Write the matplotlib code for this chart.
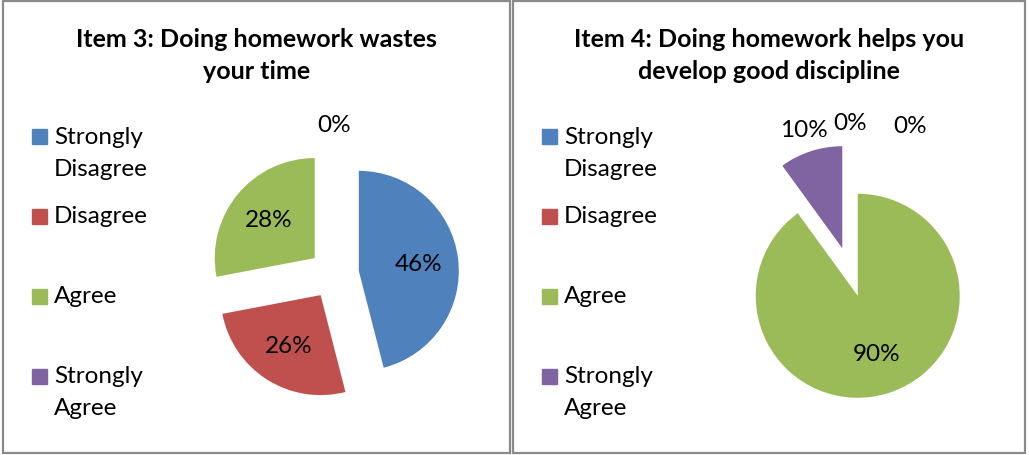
import textwrap
import numpy as np
import matplotlib.pyplot as plt
from matplotlib.patches import Rectangle

plt.rcParams['font.family'] = ['Lato', 'DejaVu Sans']

categories = ['Strongly Disagree', 'Disagree', 'Agree', 'Strongly Agree']
colors = ['#4F81BD', '#C0504D', '#9BBB59', '#8064A2']

item3_title = 'Item 3: Doing homework wastes\nyour time'
item3_values = [46, 26, 28, 0]

item4_title = 'Item 4: Doing homework helps you\ndevelop good discipline'
item4_values = [0, 0, 90, 10]

W, H = 1029, 456
fig = plt.figure(figsize=(W / 100, H / 100), dpi=100)


def px_box(x0, y0, w, h):
    # pixel box (top-left origin) -> figure fraction rect
    return [x0 / W, 1 - (y0 + h) / H, w / W, h / H]


def panel(left, right, pie_cx, pie_cy, radius, title, values):
    # panel border
    fig.add_artist(Rectangle((left / W, 2 / H), (right - left) / W, (H - 4) / H,
                             transform=fig.transFigure, fill=False,
                             edgecolor='#8a8a8a', linewidth=1.6))
    # title
    fig.text((left + right) / 2 / W, 1 - 55.5 / H, title, ha='center', va='center',
             fontsize=18, fontweight='bold', linespacing=1.5)

    # legend
    for i, (cat, col) in enumerate(zip(categories, colors)):
        y = 137 + i * 80
        fig.add_artist(Rectangle(((left + 29) / W, 1 - (y + 7.5) / H), 15 / W, 15 / H,
                                 transform=fig.transFigure, color=col))
        for j, line in enumerate(textwrap.wrap(cat, 9)):
            fig.text((left + 51) / W, 1 - (y + j * 32) / H, line, ha='left',
                     va='center', fontsize=17.5)

    # pie
    ax = fig.add_axes(px_box(pie_cx - 150, pie_cy - 150, 300, 300))
    wedges, texts = ax.pie(values, colors=colors, startangle=90, counterclock=False,
                           explode=[0.25] * len(values), radius=radius,
                           labels=[f'{v}%' for v in values], labeldistance=None,
                           wedgeprops=dict(linewidth=0))
    # inside labels for large slices, outside for small ones
    total = sum(values)
    seen = {}
    for w, v in zip(wedges, values):
        ang = np.deg2rad((w.theta1 + w.theta2) / 2)
        lbl = f'{v}%'
        if v / total >= 0.15:
            cx, cy = w.center
            x = cx + 0.6 * radius * np.cos(ang)
            y = cy + 0.6 * radius * np.sin(ang)
        else:
            key = round(float(ang), 3)
            n = seen.get(key, 0)
            seen[key] = n + 1
            x = 1.5 * np.cos(ang) + 0.6 * n
            y = 1.5 * np.sin(ang) - 0.04 * n
        ax.text(x, y, lbl, ha='center', va='center', fontsize=17.5)
    ax.set_xlim(-1.5, 1.5)
    ax.set_ylim(-1.5, 1.5)
    ax.set_aspect('equal')
    ax.axis('off')


panel(3, 510, 334, 275, 1.0, item3_title, item3_values)
panel(513, 1025, 850, 273, 1.02, item4_title, item4_values)

fig.savefig('out.png', dpi=100)
